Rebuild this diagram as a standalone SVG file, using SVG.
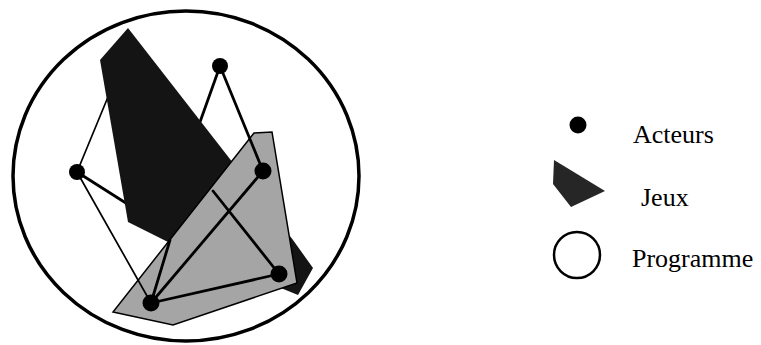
<svg xmlns="http://www.w3.org/2000/svg" width="761" height="345" viewBox="0 0 761 345">
<style>
.edge{stroke:#000;stroke-width:2.8;fill:none;stroke-linecap:round}
.thin{stroke-width:1.7}
.node{fill:#000}
.lbl{font-family:"Liberation Serif","Times New Roman",serif;font-size:26px;fill:#000}
</style>
<rect width="761" height="345" fill="#fff"/>
<g id="programme">
<ellipse cx="186" cy="176" rx="173" ry="165" fill="#fff" stroke="#000" stroke-width="3.5"/>
</g>
<g id="hidden-edges">
<line class="edge" x1="220" y1="66" x2="190" y2="150"/>
<line class="edge thin" x1="77" y1="172" x2="115" y2="80"/>
<line class="edge" x1="77" y1="172" x2="140" y2="212"/>
</g>
<g id="jeu-sombre">
<polygon points="128,28 293,240 313,268 298,295 168,242 128,222 100,60" fill="#141414"/>
</g>
<g id="jeu-clair">
<polygon points="254,133 272,132 297,283 173,325 113,312" fill="#a5a5a5" stroke="#000" stroke-width="1.5"/>
</g>
<g id="connectors">
<line class="edge" x1="220" y1="66" x2="263" y2="171"/>
<line class="edge thin" x1="77" y1="172" x2="151" y2="303"/>
<line class="edge" x1="151" y1="303" x2="263" y2="171"/>
<line class="edge" x1="151" y1="303" x2="279" y2="274"/>
<line class="edge" x1="151" y1="303" x2="170" y2="240"/>
<line class="edge" x1="213" y1="191" x2="279" y2="274"/>
</g>
<g id="acteur-haut"><circle class="node" cx="220" cy="66" r="8"/></g>
<g id="acteur-gauche"><circle class="node" cx="77" cy="172" r="8"/></g>
<g id="acteur-droite"><circle class="node" cx="263" cy="171" r="8.5"/></g>
<g id="acteur-bas-droite"><circle class="node" cx="279" cy="274" r="8.5"/></g>
<g id="acteur-bas-gauche"><circle class="node" cx="151" cy="303" r="8.5"/></g>
<g id="legende">
<circle class="node" cx="578" cy="125" r="8.5"/>
<text class="lbl" x="633" y="143">Acteurs</text>
<polygon points="554,160 605,191 571,207 553,184" fill="#262626"/>
<text class="lbl" x="641" y="206">Jeux</text>
<circle cx="577" cy="255" r="23" fill="#fff" stroke="#000" stroke-width="2.5"/>
<text class="lbl" x="632" y="267">Programme</text>
</g>
</svg>
